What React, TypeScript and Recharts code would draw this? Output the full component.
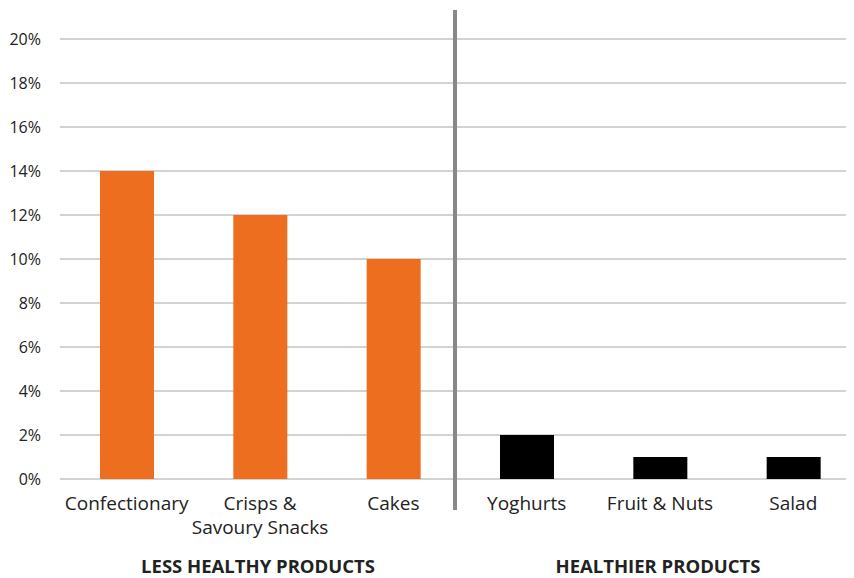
import React from 'react';
import { BarChart, Bar, XAxis, YAxis, CartesianGrid, Cell, usePlotArea } from 'recharts';

const categories = ['Confectionary', 'Crisps &\nSavoury Snacks', 'Cakes', 'Yoghurts', 'Fruit & Nuts', 'Salad'];
const shares = [14, 12, 10, 2, 1, 1];
const barColors = ['#ED6E1F', '#ED6E1F', '#ED6E1F', '#000000', '#000000', '#000000'];
const groupLabels = ['LESS HEALTHY PRODUCTS', 'HEALTHIER PRODUCTS'];
const yTicks = [0, 2, 4, 6, 8, 10, 12, 14, 16, 18, 20];

const data = categories.map((c, i) => ({ name: c, value: shares[i] }));

const FONT = '"Open Sans", sans-serif';

const XTick = (props: any) => {
  const { x, y, payload } = props;
  const lines = String(payload.value).split('\n');
  return (
    <text x={x} y={y} textAnchor="middle" fill="#222" fontSize={19} fontFamily={FONT}>
      {lines.map((l, i) => (
        <tspan key={i} x={x} dy={i === 0 ? 31 : 24}>{l}</tspan>
      ))}
    </text>
  );
};

const Overlay = () => {
  const plot = usePlotArea();
  if (!plot) return null;
  const mid = plot.x + plot.width / 2 - 5;
  return (
    <g>
      <line x1={mid} x2={mid} y1={plot.y - 29} y2={plot.y + plot.height + 31} stroke="#888" strokeWidth={4} />
      {groupLabels.map((g, i) => (
        <text
          key={g}
          x={plot.x + (plot.width * (2 * i + 1)) / 4 - 2}
          y={plot.y + plot.height + 94}
          textAnchor="middle"
          fontWeight="bold"
          fontSize={18.5}
          fontFamily={FONT}
          fill="#222"
        >
          {g}
        </text>
      ))}
    </g>
  );
};

export default function App() {
  return (
    <div style={{ width: 846, overflow: 'hidden' }}>
      <BarChart width={852} height={572} data={data} margin={{ top: 31, right: 0, left: 0, bottom: 41 }} barSize={54}>
        <CartesianGrid vertical={false} stroke="#a6a6a6" strokeWidth={1} />
        <XAxis dataKey="name" axisLine={false} tickLine={false} interval={0} tick={<XTick />} height={60} tickSize={0} tickMargin={0} />
        <YAxis
          domain={[0, 20]}
          ticks={yTicks}
          tickFormatter={(v: number) => `${v}%`}
          axisLine={false}
          tickLine={false}
          tickSize={0}
          tickMargin={19}
          width={52}
          tick={{ fill: '#222', fontSize: 16, fontFamily: FONT }}
        />
        <Bar dataKey="value" isAnimationActive={false}>
          {data.map((d, i) => (
            <Cell key={d.name} fill={barColors[i]} />
          ))}
        </Bar>
        <Overlay />
      </BarChart>
    </div>
  );
}
